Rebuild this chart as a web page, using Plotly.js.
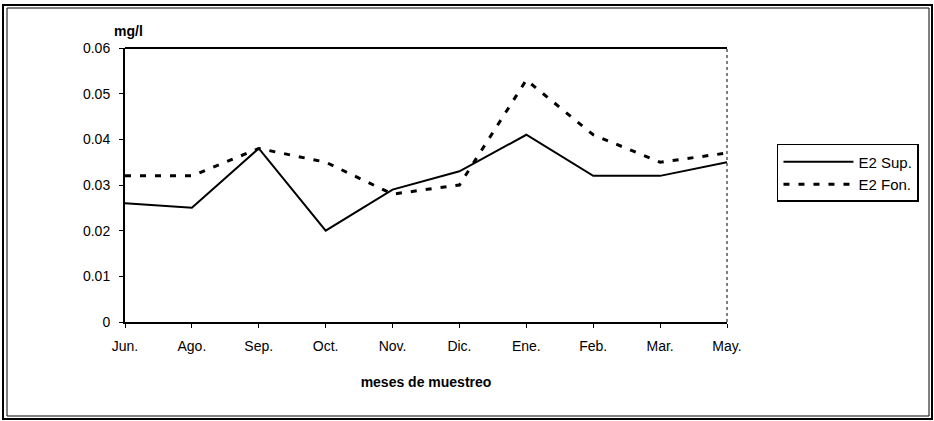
<!DOCTYPE html>
<html>
<head>
<meta charset="utf-8">
<script src="https://cdn.plot.ly/plotly-3.0.1.min.js"></script>
<style>html,body{margin:0;padding:0;background:#fff;}#chart{width:934px;height:421px;}</style>
</head>
<body>
<div id="chart"></div>
<script>
const months = ["Jun.", "Ago.", "Sep.", "Oct.", "Nov.", "Dic.", "Ene.", "Feb.", "Mar.", "May."];
const e2Sup = [0.026, 0.025, 0.038, 0.020, 0.029, 0.033, 0.041, 0.032, 0.032, 0.035];
const e2Fon = [0.032, 0.032, 0.038, 0.035, 0.028, 0.030, 0.053, 0.041, 0.035, 0.037];
const yTicks = [0, 0.01, 0.02, 0.03, 0.04, 0.05, 0.06];
const yTickText = ["0", "0.01", "0.02", "0.03", "0.04", "0.05", "0.06"];

const font = {family: "Liberation Sans, Arial, sans-serif", color: "#000"};
const f = (s) => Object.assign({size: s}, font);

const traces = [
  {x: months, y: e2Sup, name: "E2 Sup.", type: "scatter", mode: "lines",
   line: {color: "#000", width: 2}},
  {x: months, y: e2Fon, name: "E2 Fon.", type: "scatter", mode: "lines",
   line: {color: "#000", width: 3, dash: "6px,9px"}}
];

const layout = {
  width: 934, height: 421,
  margin: {l: 125, r: 207, t: 48, b: 99},
  paper_bgcolor: "#fff", plot_bgcolor: "#fff",
  font: f(14),
  showlegend: true,
  legend: {x: 1.083, y: 0.65, xanchor: "left", yanchor: "top",
           bordercolor: "#000", borderwidth: 1.5, bgcolor: "#fff",
           font: f(15), itemwidth: 70},
  xaxis: {
    type: "category", range: [0, 9], showgrid: false, zeroline: false,
    showline: true, linecolor: "#000", linewidth: 2,
    ticks: "outside", ticklen: 4, tickcolor: "#000", ticklabelstandoff: 6,
    tickfont: f(14),
    title: {text: "<b>meses de muestreo</b>", font: f(14), standoff: 24}
  },
  yaxis: {
    range: [0, 0.06], tickvals: yTicks, ticktext: yTickText,
    showgrid: false, zeroline: false, showline: true, linecolor: "#000", linewidth: 2,
    ticks: "outside", ticklen: 4, tickcolor: "#000", ticklabelstandoff: 6,
    tickfont: f(14)
  },
  annotations: [
    {text: "<b>mg/l</b>", xref: "paper", yref: "paper", x: -0.022, y: 1.0, xanchor: "left", yanchor: "bottom",
     yshift: 7, showarrow: false, font: f(14)}
  ],
  shapes: [
    {type: "line", xref: "paper", yref: "paper", x0: 0, x1: 1, y0: 1, y1: 1, line: {color: "#000", width: 2}},
    {type: "line", xref: "paper", yref: "paper", x0: 1, x1: 1, y0: 0, y1: 1, line: {color: "#000", width: 1, dash: "dot"}},
    {type: "rect", xref: "paper", yref: "paper",
     x0: -122/602, x1: 807/602, y0: -97/274, y1: 317/274,
     line: {color: "#000", width: 2}},
    {type: "rect", xref: "paper", yref: "paper",
     x0: -118/602, x1: 804/602, y0: -94/274, y1: 314/274,
     line: {color: "#000", width: 1}}
  ]
};

Plotly.newPlot("chart", traces, layout, {displayModeBar: false, staticPlot: true});
</script>
</body>
</html>
